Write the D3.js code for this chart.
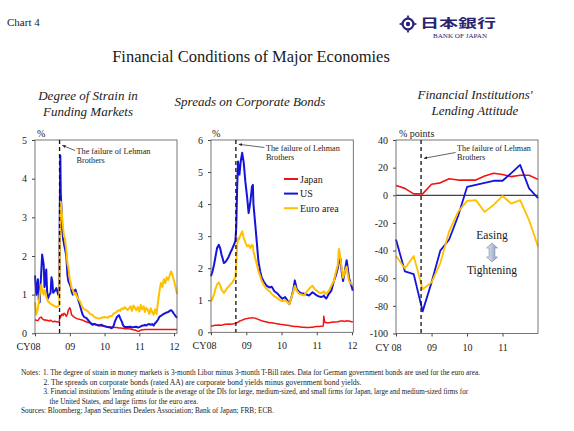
<!DOCTYPE html>
<html>
<head>
<meta charset="utf-8">
<script src="https://cdn.jsdelivr.net/npm/d3@7"></script>
<style>
body { margin: 0; background: #fff; }
svg text { font-family: "Liberation Serif", "Times New Roman", serif; fill: #1a1a1a; }
</style>
</head>
<body>
<script>
// ---- Panel 1: degree of strain in funding markets (%) ----
var strainDates = ["2008-01-01","2008-01-15","2008-02-01","2008-02-10","2008-02-19","2008-03-07","2008-03-16","2008-04-01","2008-04-10","2008-04-19",
  "2008-04-28","2008-05-07","2008-05-16","2008-06-01","2008-06-13","2008-06-22","2008-07-01","2008-07-10","2008-07-25","2008-08-13",
  "2008-09-01","2008-09-12","2008-09-17","2008-09-23","2008-09-28","2008-10-04","2008-10-13","2008-10-22","2008-11-01","2008-11-10",
  "2008-11-25","2008-12-07","2008-12-16","2009-01-01","2009-01-10","2009-01-19","2009-02-01","2009-02-16","2009-03-01","2009-03-16",
  "2009-04-01","2009-04-16","2009-05-01","2009-05-16","2009-06-01","2009-06-22","2009-07-10","2009-08-01","2009-08-25","2009-09-16",
  "2009-10-07","2009-11-01","2009-12-01","2010-01-01","2010-02-01","2010-03-01","2010-03-16","2010-04-01","2010-04-19","2010-05-10",
  "2010-06-01","2010-06-16","2010-07-01","2010-07-16","2010-08-01","2010-09-01","2010-10-01","2010-10-16","2010-11-01","2010-12-01",
  "2010-12-16","2011-01-01","2011-01-16","2011-02-01","2011-02-16","2011-03-01","2011-03-16","2011-04-01","2011-04-16","2011-05-01",
  "2011-05-16","2011-06-01","2011-06-16","2011-07-01","2011-07-16","2011-08-01","2011-08-16","2011-09-01","2011-09-16","2011-10-01",
  "2011-10-16","2011-11-01","2011-11-16","2011-12-01","2011-12-16","2012-01-01","2012-01-16","2012-02-01"];
var strainJapan = [0.35,0.34,0.33,0.36,0.4,0.42,0.38,0.35,0.34,0.35,
  0.33,0.34,0.33,0.32,0.34,0.32,0.31,0.3,0.31,0.3,
  0.29,0.3,0.4,0.45,0.42,0.48,0.5,0.46,0.52,0.5,
  0.44,0.5,0.6,0.66,0.6,0.48,0.45,0.42,0.4,0.38,
  0.37,0.36,0.35,0.34,0.32,0.3,0.28,0.27,0.25,0.24,
  0.22,0.2,0.19,0.18,0.17,0.16,0.16,0.16,0.15,0.15,
  0.14,0.14,0.13,0.13,0.12,0.12,0.11,0.1,0.09,0.07,
  0.05,0.06,0.08,0.09,0.09,0.1,0.1,0.1,0.1,0.1,
  0.1,0.1,0.1,0.1,0.1,0.1,0.1,0.1,0.1,0.1,
  0.1,0.1,0.1,0.1,0.1,0.1,0.1,0.1];
var strainUS = [1.5,1.0,1.4,0.85,0.8,1.6,2.04,1.78,1.2,1.35,
  1.65,1.1,0.9,1.0,1.05,1.45,1.35,1.05,1.09,1.17,
  1.0,1.1,3.0,4.6,3.6,3.3,2.7,2.45,2.3,2.2,
  2.0,1.5,1.35,1.26,1.2,1.09,1.0,1.1,1.13,1.0,
  0.85,0.74,0.6,0.48,0.42,0.4,0.35,0.28,0.22,0.24,
  0.22,0.2,0.22,0.18,0.16,0.15,0.13,0.16,0.3,0.42,
  0.47,0.38,0.3,0.2,0.16,0.16,0.17,0.15,0.16,0.17,
  0.15,0.16,0.18,0.2,0.2,0.22,0.2,0.23,0.24,0.22,
  0.24,0.2,0.26,0.3,0.35,0.43,0.45,0.48,0.5,0.52,
  0.54,0.55,0.58,0.6,0.56,0.5,0.45,0.4];
var strainEuro = [0.8,0.48,0.65,0.8,1.0,1.26,1.1,1.0,1.13,1.05,
  0.96,0.88,0.83,0.79,0.76,0.75,0.74,0.72,0.7,0.68,
  0.7,0.72,2.4,3.0,3.4,3.2,3.0,2.73,2.5,2.45,
  2.15,1.8,1.7,1.4,1.3,1.17,1.13,1.0,1.05,0.95,
  0.88,0.83,0.74,0.66,0.62,0.6,0.57,0.5,0.48,0.42,
  0.4,0.38,0.4,0.42,0.4,0.45,0.44,0.5,0.52,0.56,
  0.6,0.58,0.65,0.62,0.68,0.6,0.7,0.58,0.72,0.6,
  0.68,0.56,0.73,0.62,0.7,0.55,0.66,0.6,0.5,0.65,
  0.55,0.48,0.62,0.5,0.8,1.1,1.3,1.2,1.4,1.3,
  1.45,1.38,1.5,1.6,1.5,1.35,1.2,1.02];

// ---- Panel 2: spreads on corporate bonds (%) ----
var spreadDates = ["2008-01-01","2008-01-16","2008-02-01","2008-02-16","2008-03-04","2008-03-22","2008-04-07","2008-04-19","2008-05-01","2008-05-13",
  "2008-06-01","2008-06-16","2008-07-01","2008-07-19","2008-08-07","2008-08-25","2008-09-10","2008-09-19","2008-09-28","2008-10-07",
  "2008-10-16","2008-10-22","2008-11-04","2008-11-19","2008-12-05","2008-12-22","2009-01-10","2009-01-25","2009-02-13","2009-03-01",
  "2009-03-10","2009-03-16","2009-04-04","2009-04-22","2009-05-07","2009-05-25","2009-06-10","2009-07-07","2009-08-01","2009-08-28",
  "2009-09-22","2009-10-19","2009-11-16","2009-12-16","2010-01-10","2010-02-07","2010-03-01","2010-03-22","2010-04-10","2010-05-01",
  "2010-05-19","2010-06-07","2010-07-04","2010-07-25","2010-08-22","2010-09-16","2010-10-13","2010-11-01","2010-11-19","2010-12-10",
  "2011-01-01","2011-01-22","2011-02-13","2011-03-10","2011-03-15","2011-03-25","2011-04-10","2011-05-07","2011-06-01","2011-06-28",
  "2011-07-16","2011-08-07","2011-08-19","2011-09-04","2011-09-16","2011-10-01","2011-10-19","2011-11-07","2011-11-19","2011-12-01",
  "2011-12-16","2012-01-01","2012-01-10"];
var spreadJapan = [0.2,0.2,0.21,0.22,0.22,0.23,0.22,0.22,0.23,0.24,
  0.25,0.25,0.26,0.25,0.26,0.27,0.28,0.3,0.3,0.32,
  0.33,0.35,0.36,0.38,0.4,0.42,0.43,0.44,0.45,0.45,
  0.46,0.45,0.44,0.42,0.4,0.38,0.36,0.34,0.32,0.3,
  0.3,0.28,0.27,0.25,0.24,0.23,0.22,0.21,0.2,0.19,
  0.18,0.18,0.17,0.16,0.16,0.15,0.15,0.16,0.16,0.17,
  0.18,0.18,0.19,0.2,0.5,0.32,0.3,0.3,0.31,0.32,
  0.32,0.33,0.34,0.35,0.35,0.35,0.34,0.36,0.35,0.35,
  0.34,0.33,0.33];
var spreadUS = [1.75,1.9,2.1,2.35,2.63,2.73,2.6,2.42,2.3,2.16,
  2.2,2.27,2.35,2.48,2.6,2.73,2.85,3.3,4.5,5.33,
  5.1,4.92,5.33,5.6,5.3,4.7,4.2,3.72,4.09,4.55,
  4.6,4.0,3.36,2.73,2.2,1.9,1.7,1.55,1.45,1.4,
  1.42,1.28,1.22,1.12,1.05,1.1,1.0,0.88,1.05,1.3,
  1.62,1.35,1.25,1.22,1.2,1.18,1.15,1.2,1.25,1.2,
  1.15,1.12,1.1,1.12,1.15,1.1,1.05,1.2,1.3,1.6,
  1.75,2.0,2.2,2.3,1.9,1.6,1.9,2.25,2.0,1.7,
  1.55,1.4,1.3];
var spreadEuro = [0.97,1.05,1.18,1.35,1.5,1.56,1.45,1.33,1.28,1.23,
  1.3,1.38,1.42,1.49,1.55,1.64,1.7,2.1,2.73,2.94,
  2.9,2.95,3.05,3.15,2.95,2.8,2.68,2.72,2.63,2.73,
  2.7,2.53,2.3,2.1,1.9,1.75,1.6,1.45,1.35,1.28,
  1.2,1.12,1.07,1.0,0.97,1.0,0.95,0.88,1.05,1.25,
  1.45,1.3,1.2,1.18,1.15,1.25,1.35,1.42,1.45,1.35,
  1.3,1.25,1.22,1.25,1.28,1.22,1.2,1.3,1.45,1.6,
  1.85,2.1,2.6,2.3,2.0,1.7,1.9,2.05,1.8,1.6,
  1.55,1.5,1.5];

// ---- Panel 3: financial institutions' lending attitude (DI, % points) ----
var lendingQuarters = ["2008-01","2008-04","2008-07","2008-10","2009-01","2009-04","2009-07","2009-10","2010-01",
  "2010-04","2010-07","2010-10","2011-01","2011-04","2011-07","2011-10","2012-01"];
var lendingJapan = [7,5,1,1,8,9,12,11,11,11,14,16,15,13.5,14.5,14.5,11.5];
var lendingUS = [-32,-55,-57,-84,-63,-40,-32,-15,6,7.5,9,10.5,10.5,16,22,5,-2];
var lendingEuro = [-44,-53,-44,-68,-63,-49,-26,-12,-4,-3.5,-12,-7,-0.5,-6,-3.5,-18,-37];

var yearLabels = ["CY08", "09", "10", "11", "12"];
var lendingYearLabels = ["CY 08", "09", "10", "11"];
var legendNames = ["Japan", "US", "Euro area"];
var colors = ["#f01414", "#1414dc", "#ffc000"];

var width = 574, height = 431;
var serif = '"Liberation Serif", "Times New Roman", serif';
var parseDay = d3.timeParse("%Y-%m-%d");
var parseMonth = d3.timeParse("%Y-%m");
var lehman = parseDay("2008-09-15");

var svg = d3.select("body").append("svg")
  .attr("width", width)
  .attr("height", height);

var defs = svg.append("defs");
defs.append("marker")
  .attr("id", "tip")
  .attr("viewBox", "0 0 10 10")
  .attr("refX", 9).attr("refY", 5)
  .attr("markerWidth", 5).attr("markerHeight", 5)
  .attr("orient", "auto-start-reverse")
  .append("path").attr("d", "M0,1 L10,5 L0,9 Z").attr("fill", "#222");

var grad = defs.append("linearGradient").attr("id", "arrowFill")
  .attr("x1", 0).attr("x2", 1).attr("y1", 0).attr("y2", 0);
grad.append("stop").attr("offset", "0%").attr("stop-color", "#e4e9f4");
grad.append("stop").attr("offset", "100%").attr("stop-color", "#8d9bc0");

function zip(dates, values, parse) {
  return dates.map(function(d, i) { return { date: parse(d), v: values[i] }; });
}

function drawPanel(opt) {
  var x = d3.scaleTime().domain(opt.xDomain).range([opt.left, opt.right]);
  var y = d3.scaleLinear().domain(opt.yDomain).range([opt.bottom, opt.top]);
  var g = svg.append("g");

  // y axis (plain hyphen for negatives, as in the original)
  var ya = g.append("g")
    .attr("transform", "translate(" + opt.left + ",0)")
    .call(d3.axisLeft(y).tickValues(opt.yTicks).tickSize(3).tickPadding(5)
      .tickFormat(function(d) { return String(d); }));
  // x axis
  var xa = g.append("g")
    .attr("transform", "translate(0," + opt.bottom + ")")
    .call(d3.axisBottom(x).tickValues(opt.xTicks).tickSize(3).tickPadding(7)
      .tickFormat(function(d, i) { return opt.xLabels[i]; }));
  [ya, xa].forEach(function(a) {
    a.attr("font-family", serif).attr("font-size", 10);
    a.select(".domain").remove();
    a.selectAll("line").attr("stroke", "#444");
    a.selectAll("text").attr("fill", "#1a1a1a");
  });
  // "08" of the first label sits on the tick, "CY" hangs to the left
  xa.selectAll(".tick text").filter(function(d, i) { return i === 0; })
    .attr("text-anchor", "end").attr("x", 5);

  if (opt.zeroLine) {
    g.append("line")
      .attr("x1", opt.left).attr("x2", opt.right)
      .attr("y1", y(0)).attr("y2", y(0))
      .attr("stroke", "#111").attr("stroke-width", 1);
  }

  var line = d3.line()
    .x(function(d) { return x(d.date); })
    .y(function(d) { return y(d.v); });

  opt.series.forEach(function(s, i) {
    g.append("path")
      .datum(s)
      .attr("fill", "none")
      .attr("stroke", colors[i])
      .attr("stroke-width", opt.widths[i])
      .attr("stroke-linejoin", "round")
      .attr("d", line);
  });

  // frame
  g.append("rect")
    .attr("x", opt.left).attr("y", opt.top)
    .attr("width", opt.right - opt.left).attr("height", opt.bottom - opt.top)
    .attr("fill", "none").attr("stroke", "#555").attr("stroke-width", 0.8);

  // Lehman line
  var lx = x(lehman);
  g.append("line")
    .attr("x1", lx).attr("x2", lx).attr("y1", opt.top).attr("y2", opt.bottom)
    .attr("stroke", "#111").attr("stroke-width", 1.3).attr("stroke-dasharray", "4,3");

  var a = opt.note;
  g.append("line")
    .attr("x1", lx + a.dx - 1.5).attr("y1", a.tailY)
    .attr("x2", lx + 3).attr("y2", a.tipY)
    .attr("stroke", "#222").attr("stroke-width", 0.7)
    .attr("marker-end", "url(#tip)");
  var t = g.append("text").attr("font-size", "8.2px")
    .attr("x", lx + a.dx).attr("y", a.y);
  t.append("tspan").attr("x", lx + a.dx).text("The failure of Lehman");
  t.append("tspan").attr("x", lx + a.dx).attr("dy", 9).text("Brothers");

  g.append("text")
    .attr("x", opt.left + opt.unitDx).attr("y", opt.top - 3)
    .attr("font-size", "10px").text(opt.unit);

  return { x: x, y: y, g: g };
}

// header
svg.append("text").attr("x", 7).attr("y", 26).attr("font-size", "11px").text("Chart 4");
svg.append("text").attr("x", 251).attr("y", 62).attr("text-anchor", "middle")
  .attr("font-size", "16.5px").text("Financial Conditions of Major Economies");

// Bank of Japan logo
var logo = svg.append("g").attr("transform", "translate(408,24)").attr("fill", "#2b2370");
logo.append("circle").attr("r", 5.4).attr("fill", "none").attr("stroke", "#2b2370").attr("stroke-width", 2.2);
logo.append("circle").attr("r", 2.2);
[0, 90, 180, 270].forEach(function(r) {
  logo.append("path").attr("d", "M-1.6,-6.2 L0,-9.2 L1.6,-6.2 Z").attr("transform", "rotate(" + r + ")");
});
svg.append("text").attr("x", 420).attr("y", 28).attr("font-size", "12.5px")
  .attr("textLength", 76).attr("lengthAdjust", "spacingAndGlyphs")
  .style("font-family", '"Noto Sans CJK JP", sans-serif').style("font-weight", "bold")
  .style("fill", "#2b2370").text("日本銀行");
svg.append("text").attr("x", 433).attr("y", 37.5).attr("font-size", "6px")
  .attr("textLength", 54).attr("lengthAdjust", "spacingAndGlyphs")
  .style("fill", "#2b2370").text("BANK OF JAPAN");

// panel titles
function subtitle(cx, lines, y0) {
  var t = svg.append("text").attr("text-anchor", "middle").attr("font-size", "13px")
    .attr("font-style", "italic");
  lines.forEach(function(s, i) {
    t.append("tspan").attr("x", cx).attr("y", y0 + i * 16).text(s);
  });
}
subtitle(88, ["Degree of Strain in", "Funding Markets"], 100);
subtitle(250, ["Spreads on Corporate Bonds"], 106);
subtitle(475, ["Financial Institutions'", "Lending Attitude"], 99);

var years = ["2008-01-01", "2009-01-01", "2010-01-01", "2011-01-01", "2012-01-01"].map(parseDay);

drawPanel({
  left: 35, right: 177, top: 140, bottom: 333.3,
  xDomain: [parseDay("2008-01-01"), parseDay("2012-02-01")],
  yDomain: [0, 5], yTicks: [0, 1, 2, 3, 4, 5],
  xTicks: years, xLabels: yearLabels,
  series: [zip(strainDates, strainJapan, parseDay), zip(strainDates, strainUS, parseDay), zip(strainDates, strainEuro, parseDay)],
  widths: [1.5, 2, 2],
  unit: "%", unitDx: 2,
  note: { dx: 17, y: 154, tailY: 150.5, tipY: 145.5 }
});

drawPanel({
  left: 211, right: 353.3, top: 140, bottom: 332.3,
  xDomain: [parseDay("2008-01-01"), parseDay("2012-01-15")],
  yDomain: [0, 6], yTicks: [0, 1, 2, 3, 4, 5, 6],
  xTicks: years, xLabels: yearLabels,
  series: [zip(spreadDates, spreadJapan, parseDay), zip(spreadDates, spreadUS, parseDay), zip(spreadDates, spreadEuro, parseDay)],
  widths: [1.5, 2, 2],
  unit: "%", unitDx: 1,
  note: { dx: 30, y: 150.5, tailY: 147.5, tipY: 144.3 }
});

// legend, panel 2
legendNames.forEach(function(name, i) {
  var ly = 179 + i * 14.6;
  svg.append("line").attr("x1", 284).attr("x2", 298).attr("y1", ly).attr("y2", ly)
    .attr("stroke", colors[i]).attr("stroke-width", 2);
  svg.append("text").attr("x", 300).attr("y", ly + 3.5).attr("font-size", "10px").text(name);
});

drawPanel({
  left: 396, right: 538, top: 140, bottom: 333.5,
  xDomain: [parseDay("2008-01-01"), parseDay("2012-01-01")],
  yDomain: [-100, 40], yTicks: [-100, -80, -60, -40, -20, 0, 20, 40],
  xTicks: years.slice(0, 4), xLabels: lendingYearLabels,
  series: [zip(lendingQuarters, lendingJapan, parseMonth), zip(lendingQuarters, lendingUS, parseMonth), zip(lendingQuarters, lendingEuro, parseMonth)],
  widths: [1.6, 1.8, 1.8],
  zeroLine: true,
  unit: "% points", unitDx: 3,
  note: { dx: 36, y: 151, tailY: 152.5, tipY: 158.3 }
});

// easing / tightening marker
var arrowX = 492, arrowTop = 243, arrowBot = 262;
svg.append("path")
  .attr("d", "M" + arrowX + "," + arrowTop + " l5.5,5 h-2.6 V" + (arrowBot - 5) + " h2.6 L" + arrowX + "," + arrowBot +
    " l-5.5,-5 h2.6 V" + (arrowTop + 5) + " h-2.6 Z")
  .attr("fill", "url(#arrowFill)").attr("stroke", "#7d88a6").attr("stroke-width", 0.6);
svg.append("text").attr("x", arrowX).attr("y", 239).attr("text-anchor", "middle").attr("font-size", "11.5px").text("Easing");
svg.append("text").attr("x", arrowX).attr("y", 274).attr("text-anchor", "middle").attr("font-size", "11.5px").text("Tightening");

// notes
var notes = [
  { x: 21, y: 375, len: 0, s: "Notes:" },
  { x: 43, y: 375, len: 437, s: "1. The degree of strain in money markets is 3-month Libor minus 3-month T-Bill rates. Data for German government bonds are used for the euro area." },
  { x: 43.5, y: 384.5, len: 318, s: "2. The spreads on corporate bonds (rated AA) are corporate bond yields minus government bond yields." },
  { x: 43.5, y: 394, len: 424.5, s: "3. Financial institutions' lending attitude is the average of the DIs for large, medium-sized, and small firms for Japan, large and medium-sized firms for" },
  { x: 49.5, y: 403.5, len: 148.5, s: "the United States, and large firms for the euro area." },
  { x: 21, y: 413, len: 253, s: "Sources: Bloomberg; Japan Securities Dealers Association; Bank of Japan; FRB; ECB." }
];
notes.forEach(function(n) {
  var t = svg.append("text").attr("x", n.x).attr("y", n.y).attr("font-size", "7.4px").text(n.s);
  if (n.len) t.attr("textLength", n.len).attr("lengthAdjust", "spacingAndGlyphs");
});
</script>
</body>
</html>
